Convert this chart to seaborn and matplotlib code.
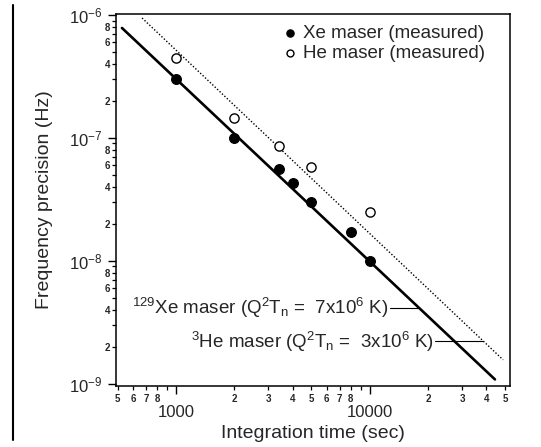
import numpy as np
import pandas as pd
import matplotlib
matplotlib.use("Agg")
import matplotlib.pyplot as plt
from matplotlib.lines import Line2D
from matplotlib.ticker import FixedLocator, FuncFormatter
import seaborn as sns

# measured points
xe_time = [1000, 2000, 3400, 4000, 5000, 8000, 10000]
xe_precision = [3.0e-7, 1.0e-7, 5.6e-8, 4.3e-8, 3.0e-8, 1.7e-8, 1.0e-8]
he_time = [1000, 2000, 3400, 5000, 10000]
he_precision = [4.5e-7, 1.45e-7, 8.6e-8, 5.8e-8, 2.5e-8]

# predicted limits (straight lines on log-log, end points)
xe_fit_time = [525, 44400]
xe_fit_precision = [7.85e-7, 1.08e-9]
he_fit_time = [667, 48900]
he_fit_precision = [9.46e-7, 1.56e-9]

# leader lines for the two labels
xe_lead_time = [12700, 17700]
xe_lead_precision = [4.15e-9, 4.15e-9]
he_lead_time = [21800, 38500]
he_lead_precision = [2.2e-9, 2.2e-9]

xe_label = r'$^{129}$Xe maser (Q$^2$T$_n$ =  7x10$^6$ K)'
he_label = r'$^{3}$He maser (Q$^2$T$_n$ =  3x10$^6$ K)'

# tick positions
x_major_ticks = [1000, 10000]
x_minor_ticks = [500, 600, 700, 800, 900,
                 2000, 3000, 4000, 5000, 6000, 7000, 8000, 9000,
                 20000, 30000, 40000, 50000]
y_major_ticks = [1e-9, 1e-8, 1e-7, 1e-6]
y_minor_ticks = [m * 10.0 ** e for e in (-9, -8, -7) for m in range(2, 10)]

sns.set_style("ticks")
plt.rcParams['font.family'] = ['Liberation Sans', 'DejaVu Sans']
plt.rcParams['mathtext.fontset'] = 'custom'
plt.rcParams['mathtext.rm'] = 'Liberation Sans'
plt.rcParams['mathtext.it'] = 'Liberation Sans'
plt.rcParams['mathtext.bf'] = 'Liberation Sans:bold'
plt.rcParams['mathtext.default'] = 'regular'

fig = plt.figure(figsize=(5.41, 4.47), dpi=100)
ax = fig.add_axes([0.2144, 0.1365, 0.7283, 0.8322])
ax.set_xscale('log')
ax.set_yscale('log')

sns.lineplot(x=xe_fit_time, y=xe_fit_precision, ax=ax, color='black', lw=1.9)
sns.lineplot(x=he_fit_time, y=he_fit_precision, ax=ax, color='black', lw=1.0,
             linestyle=(0, (1, 1.4)))
sns.lineplot(x=xe_lead_time, y=xe_lead_precision, ax=ax, color='black', lw=0.8)
sns.lineplot(x=he_lead_time, y=he_lead_precision, ax=ax, color='black', lw=0.8)

sns.scatterplot(x=xe_time, y=xe_precision, ax=ax, color='black', s=50,
                edgecolor='black', linewidth=0.8, label='Xe maser (measured)', zorder=5)
sns.scatterplot(x=he_time, y=he_precision, ax=ax, facecolor='white', s=44,
                edgecolor='black', linewidth=1.0, label='He maser (measured)', zorder=5)

ax.text(12500, 4.15e-9, xe_label, ha='right', va='center', fontsize=13.5)
ax.text(21500, 2.2e-9, he_label, ha='right', va='center', fontsize=13.5)

ax.set_xlim(489, 53100)
ax.set_ylim(0.955e-9, 1.02e-6)

ax.xaxis.set_major_locator(FixedLocator(x_major_ticks))
ax.xaxis.set_minor_locator(FixedLocator(x_minor_ticks))
ax.yaxis.set_major_locator(FixedLocator(y_major_ticks))
ax.yaxis.set_minor_locator(FixedLocator(y_minor_ticks))


def lead_digit(v):
    return int(round(v / 10 ** np.floor(np.log10(v) + 1e-9)))


def x_major(v, pos):
    return f"{int(round(v))}"


def x_minor(v, pos):
    d = lead_digit(v)
    return str(d) if d != 9 else ''


def y_major(v, pos):
    return r'$10^{%d}$' % int(round(np.log10(v)))


def y_minor(v, pos):
    d = lead_digit(v)
    return str(d) if d in (2, 4, 6, 8) else ''


ax.xaxis.set_major_formatter(FuncFormatter(x_major))
ax.xaxis.set_minor_formatter(FuncFormatter(x_minor))
ax.yaxis.set_major_formatter(FuncFormatter(y_major))
ax.yaxis.set_minor_formatter(FuncFormatter(y_minor))

ax.tick_params(axis='both', which='major', length=6, width=1.0, direction='out', color='black')
ax.tick_params(axis='both', which='minor', length=3, width=0.9, direction='out', color='black')
ax.tick_params(axis='x', which='major', pad=8, labelsize=12)
ax.tick_params(axis='x', which='minor', pad=2.5, labelsize=7)
ax.tick_params(axis='y', which='major', pad=3.5, labelsize=12)
ax.tick_params(axis='y', which='minor', pad=1.2, labelsize=7)
for lab in ax.xaxis.get_minorticklabels() + ax.yaxis.get_minorticklabels():
    lab.set_fontweight('bold')
for lab in ax.yaxis.get_majorticklabels():
    lab.set_verticalalignment('center_baseline')

for sp in ax.spines.values():
    sp.set_linewidth(1.1)
    sp.set_color('black')

ax.set_xlabel('Integration time (sec)', fontsize=14)
ax.set_ylabel('Frequency precision (Hz)', fontsize=14)
ax.xaxis.set_label_coords(0.5, -0.104)
ax.yaxis.set_label_coords(-0.16, 0.5)

ax.legend(loc='upper right', bbox_to_anchor=(0.955, 0.99), frameon=False,
          fontsize=13.5, handlelength=0.6, handletextpad=0.4, labelspacing=0.15,
          borderaxespad=0, markerscale=0.75)

# left border line of the scanned page
fig.add_artist(Line2D([13 / 541, 13 / 541], [1 - 5 / 447, 1 - 440 / 447],
                      color='black', lw=1.5))

fig.savefig('out.png', dpi=100, facecolor='white')
